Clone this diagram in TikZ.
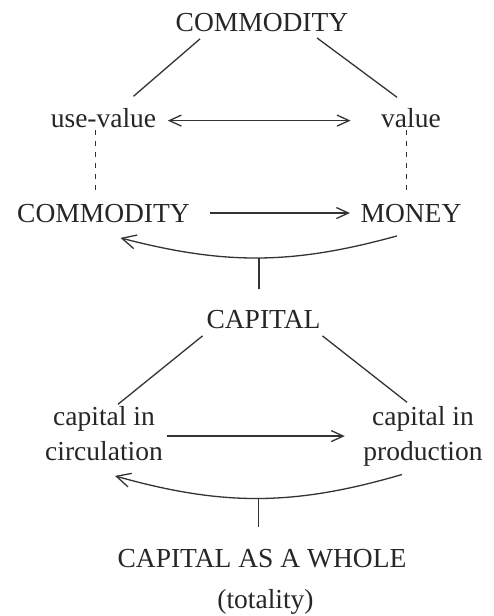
\documentclass[tikz,border=0pt]{standalone}
\usepackage{fontspec}
\setmainfont{Liberation Serif}
\usetikzlibrary{arrows.meta}
\begin{document}
\begin{tikzpicture}[x=1pt, y=-1pt, line width=1.3pt, black!80,
        tip/.style={-{Straight Barb[length=12pt, width=11pt]}},
        bigtip/.style={-{Straight Barb[length=14pt, width=14pt]}}]
        \useasboundingbox (0,0) rectangle (494,616);
        \begin{scope}[every node/.style={inner sep=2pt, anchor=base, align=center, text=black!85,
                font=\fontsize{27.5}{35}\selectfont}]
            \node (Com) at (262,31) {COMMODITY};
            \node (Use) at (103.5,127) {use-value};
            \node (Val) at (411,127) {value};
            \node (Goods) at (103.5,222) {COMMODITY};
            \node (Money) at (411,222) {MONEY};
            \node (Cap) at (263.5,328) {CAPITAL};
            \node (Circ) at (104,460) {capital in\\circulation};
            \node (Prod) at (423,460) {capital in\\production};
            \node (Whole) at (262,567) {CAPITAL AS A WHOLE};
            \node (Total) at (265.5,608) {(totality)};
        \end{scope}
        \draw ([xshift=-62pt, yshift=-5pt]Com.south) -- ([xshift=30pt, yshift=9pt]Use.north);
        \draw ([xshift=55pt, yshift=-4pt]Com.south) -- ([xshift=-14pt, yshift=8pt]Val.north);
        \draw [{Straight Barb[length=12pt, width=11pt]}-{Straight Barb[length=12pt, width=11pt]}]
            ([xshift=9pt, yshift=-3pt]Use.east) -- ([xshift=-28pt, yshift=-3pt]Val.west);
        \draw [dashed, dash pattern=on 5pt off 6pt, line width=1pt]
            ([xshift=-8pt]Use.south) -- ([xshift=-8pt, yshift=6pt]Goods.north);
        \draw [dashed, dash pattern=on 5pt off 6pt, line width=1pt]
            ([xshift=-5pt]Val.south) -- ([xshift=-5pt, yshift=6pt]Money.north);
        \draw [tip] ([xshift=18pt]Goods.east) -- ([xshift=-8pt]Money.west);
        \draw [bigtip] ([xshift=-14pt, yshift=-11pt]Money.south) to [bend left=15]
            coordinate [pos=0.5] (M1) ([xshift=17pt, yshift=-13pt]Goods.south);
        \draw [shorten >=18pt] (M1) -- (M1 |- Cap.north);
        \draw ([xshift=-61pt, yshift=-5pt]Cap.south) -- ([xshift=14pt, yshift=-1pt]Circ.north);
        \draw ([xshift=59pt, yshift=-5pt]Cap.south) -- ([xshift=-16pt, yshift=1pt]Prod.north);
        \draw [tip, shorten <=2pt, shorten >=16pt] ([yshift=-3pt]Circ.east) -- ([yshift=-3pt]Circ.east -| Prod.west);
        \draw [bigtip] ([xshift=-21pt, yshift=-6pt]Prod.south) to [bend left=16]
            coordinate [pos=0.5] (M2) ([xshift=11pt, yshift=-13pt]Circ.south);
        \draw [shorten >=19pt] (M2) -- (M2 |- Whole.north);
\end{tikzpicture}
\end{document}
